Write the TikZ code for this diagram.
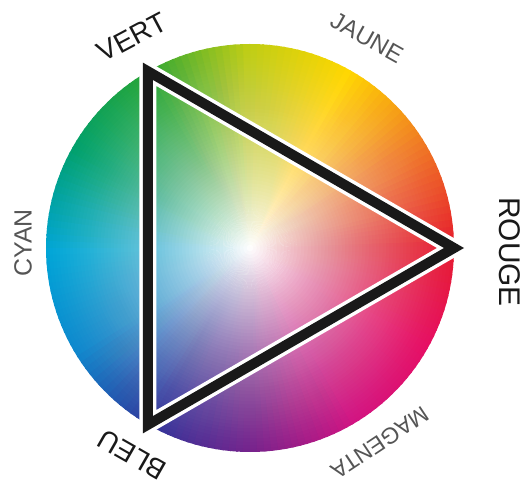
\documentclass[tikz,border=0pt]{standalone}
\usepackage{fontspec}
\setmainfont{Liberation Sans}
\definecolor{c0}{RGB}{230,30,45}
\definecolor{c1}{RGB}{240,120,35}
\definecolor{c2}{RGB}{255,215,0}
\definecolor{c3}{RGB}{190,205,20}
\definecolor{c4}{RGB}{40,165,55}
\definecolor{c5}{RGB}{0,160,110}
\definecolor{c6}{RGB}{0,165,215}
\definecolor{c7}{RGB}{15,135,205}
\definecolor{c8}{RGB}{50,55,155}
\definecolor{c9}{RGB}{120,35,140}
\definecolor{c10}{RGB}{210,20,130}
\definecolor{c11}{RGB}{230,15,100}
\definecolor{primtext}{RGB}{25,25,25}
\definecolor{sectext}{RGB}{85,85,85}
\tikzset{
  prim/.style={inner sep=0pt, text=primtext, font=\fontsize{28}{28}\selectfont},
  sec/.style={inner sep=0pt, text=sectext, font=\fontsize{24}{24}\selectfont},
  triout/.style={white, line width=17bp, line join=miter},
  triin/.style={black!90, line width=10bp, line join=miter}
}
\begin{document}
\begin{tikzpicture}[x=1bp,y=1bp]
\useasboundingbox (-250,-239) rectangle (282,248);
\def\R{204}
\def\N{60}
% hue wheel
\foreach \k [evaluate=\k as \kn using {int(mod(\k+1,12))}] in {0,...,11}{
  \foreach \j in {0,...,14}{
    \pgfmathsetmacro\p{100-\j*100/15}
    \pgfmathsetmacro\a{\k*30+\j*2}
    \pgfmathsetmacro\b{\a+2.6}
    \fill[c\k!\p!c\kn] (0,0) -- (\a:\R) arc[start angle=\a, end angle=\b, radius=\R] -- cycle;
  }
}
% white centre, built from rings of white
\foreach \i in {60,...,1}{
  \pgfmathsetmacro\Ti{1-pow(1-(\i-0.5)/\N,1.15)}
  \pgfmathsetmacro\Tp{1-pow(max(1-(\i+0.5)/\N,0.00001),1.15)}
  \pgfmathsetmacro\o{1-\Ti/\Tp}
  \pgfmathsetmacro\rr{\R*\i/\N}
  \fill[white, fill opacity=\o] (0,0) circle (\rr);
}
% triangle
\coordinate (V) at (120:\R);
\coordinate (Rg) at (0:\R);
\coordinate (B) at (240:\R);
\draw[triout] (V) -- (Rg) -- (B) -- cycle;
\draw[triin] (V) -- (Rg) -- (B) -- cycle;
% labels
\node[prim, rotate=28] (lv) at (119.2:241.7) {VERT};
\node[sec, rotate=-29.1] (lj) at (60.9:240.4) {JAUNE};
\node[prim, font=\fontsize{30}{30}\selectfont, rotate=-90] (lr) at (-0.9:260) {ROUGE};
\node[sec, font=\fontsize{25}{25}\selectfont, rotate=90] (lc) at (178.7:227) {CYAN};
\node[prim, rotate=150.3] (lb) at (240.3:238) {BLEU};
\node[sec, font=\fontsize{23}{23}\selectfont, rotate=213.7] (lm) at (303.7:234) {MAGENTA};
\end{tikzpicture}
\end{document}
